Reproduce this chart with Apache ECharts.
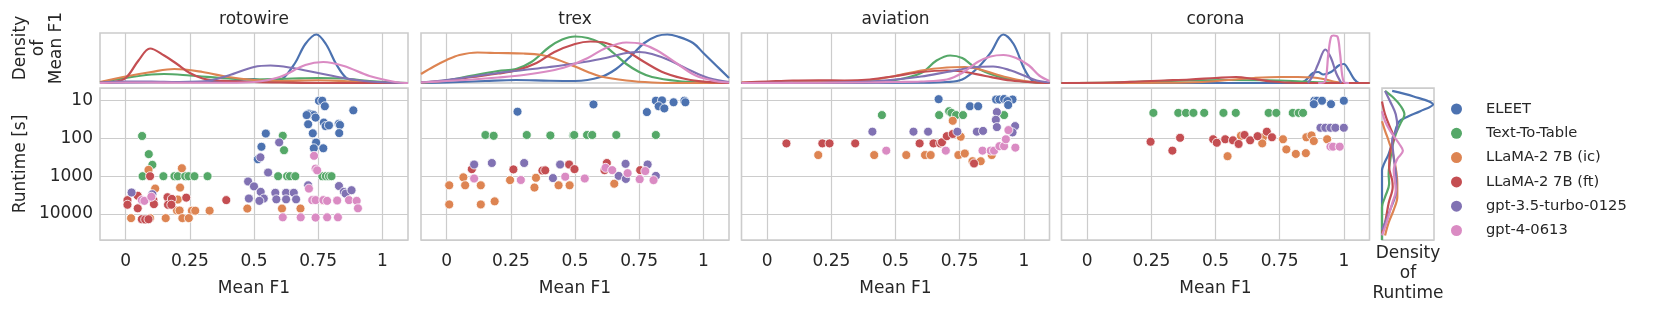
<!DOCTYPE html>
<html><head><meta charset="utf-8">
<script src="https://cdn.jsdelivr.net/npm/echarts@6/dist/echarts.min.js"></script>
<style>html,body{margin:0;padding:0;background:#fff}#c{width:1661px;height:315px}</style>
</head><body><div id="c"></div>
<script>
const methods = ['ELEET','Text-To-Table','LLaMA-2 7B (ic)','LLaMA-2 7B (ft)','gpt-3.5-turbo-0125','gpt-4-0613'];
const colors = ['#4C72B0','#55A868','#DD8452','#C44E52','#8172B3','#DA8BC3'];
const datasets = ['rotowire','trex','aviation','corona'];
const f1Ticks = [0, 0.25, 0.5, 0.75, 1];
const runtimeTicks = [10, 100, 1000, 10000];

// scatter points: [Mean F1, Runtime s], one array per method (order = methods)
const rotowirePoints = [
 [[0.753,10],[0.766,10],[0.776,14],[0.887,18],[0.714,22],[0.727,23],[0.733,24],[0.74,28],[0.705,24],[0.711,42],[0.772,38],[0.779,47],[0.792,45],[0.83,41],[0.835,44],[0.832,72],[0.729,73],[0.546,74],[0.742,128],[0.529,166],[0.733,182],[0.77,182],[0.515,355]],
 [[0.064,86],[0.09,260],[0.104,500],[0.612,85],[0.617,205],[0.066,1000],[0.147,1000],[0.19,1000],[0.203,1000],[0.232,1000],[0.245,1000],[0.268,1000],[0.319,1000],[0.594,1000],[0.629,1000],[0.64,1000],[0.661,1000],[0.766,1000],[0.78,1000],[0.792,1000],[0.802,1000]],
 [[0.219,615],[0.089,680],[0.115,2130],[0.212,2000],[0.203,4150],[0.2,8100],[0.21,8100],[0.258,8200],[0.271,8200],[0.327,8200],[0.021,12900],[0.095,12900],[0.156,12900],[0.221,12900],[0.246,12900],[0.474,7200],[0.609,7200],[0.681,7200],[0.77,4400]],
 [[0.095,1000],[0.047,3300],[0.007,4300],[0.007,5700],[0.047,7100],[0.108,4300],[0.11,5500],[0.163,3600],[0.165,5700],[0.18,4000],[0.178,5700],[0.236,3700],[0.392,4300],[0.063,13800],[0.076,14000],[0.089,13800]],
 [[0.598,127],[0.525,316],[0.555,800],[0.477,1380],[0.5,1860],[0.526,2600],[0.538,3900],[0.521,4500],[0.48,3900],[0.583,2750],[0.625,2750],[0.655,2750],[0.587,4100],[0.625,4100],[0.664,4100],[0.831,1820],[0.85,2600],[0.857,2900],[0.88,2350],[0.023,2700],[0.104,3000],[0.711,1740]],
 [[0.734,288],[0.74,630],[0.746,700],[0.714,2130],[0.727,4300],[0.74,4300],[0.77,4300],[0.785,4500],[0.824,4400],[0.87,4300],[0.9,4500],[0.905,7100],[0.612,12300],[0.682,12300],[0.74,12500],[0.785,12300],[0.827,12300],[0.063,4300],[0.073,4500],[0.1,3500]]
];
const trexPoints = [
 [[0.276,19.5],[0.572,12.5],[0.78,20],[0.815,10],[0.839,9.8],[0.826,14],[0.848,16],[0.884,11],[0.926,10],[0.93,11]],
 [[0.151,81],[0.183,85],[0.312,81],[0.404,83],[0.493,83],[0.497,81],[0.547,81],[0.567,81],[0.661,81],[0.815,81]],
 [[0.01,1740],[0.065,1070],[0.072,1740],[0.133,1740],[0.01,5600],[0.133,5600],[0.187,4640],[0.247,1270],[0.342,2000],[0.348,1100],[0.436,1740],[0.479,1740],[0.653,1580]],
 [[0.098,650],[0.26,660],[0.373,710],[0.384,700],[0.477,490],[0.498,650],[0.624,447],[0.615,690],[0.754,690]],
 [[0.107,490],[0.176,447],[0.302,447],[0.442,490],[0.697,470],[0.783,490],[0.414,1120],[0.67,980],[0.698,1180],[0.815,980]],
 [[0.107,1150],[0.289,1260],[0.462,1030],[0.538,1150],[0.619,600],[0.645,690],[0.705,830],[0.752,1200],[0.774,730],[0.806,1270]]
];
const aviationPoints = [
 [[0.668,9.1],[0.79,14],[0.822,14],[0.892,9.3],[0.905,9.3],[0.923,9],[0.956,9.3],[0.936,10.2],[0.939,13]],
 [[0.447,24],[0.67,24],[0.709,19],[0.718,21],[0.736,24],[0.763,24],[0.923,24]],
 [[0.199,275],[0.417,275],[0.542,275],[0.615,275],[0.637,275],[0.723,34],[0.754,90],[0.745,275],[0.77,250],[0.8,400],[0.832,400],[0.875,275]],
 [[0.075,135],[0.215,135],[0.243,135],[0.343,135],[0.594,135],[0.648,135],[0.674,135],[0.681,126],[0.7,87],[0.723,76],[0.806,460]],
 [[0.41,66],[0.57,66],[0.627,66],[0.741,66],[0.817,66],[0.841,63],[0.895,20],[0.891,32],[0.895,50],[0.966,47],[0.956,69]],
 [[0.464,210],[0.696,210],[0.839,210],[0.871,210],[0.884,210],[0.905,160],[0.923,160],[0.93,105],[0.94,60],[0.967,175]]
];
const coronaPoints = [
 [[0.885,10],[0.895,10],[0.915,10],[0.95,12.3],[1.0,10],[0.883,12.3]],
 [[0.258,21],[0.355,21],[0.385,21],[0.414,21],[0.456,21],[0.531,21],[0.579,21],[0.707,21],[0.737,21],[0.801,21],[0.824,21],[0.841,21]],
 [[0.547,295],[0.599,85],[0.685,93],[0.682,135],[0.763,105],[0.776,195],[0.813,257],[0.852,245],[0.854,93],[0.874,83],[0.883,117],[0.935,105]],
 [[0.247,122],[0.332,210],[0.362,96],[0.491,105],[0.505,130],[0.538,105],[0.568,112],[0.59,140],[0.613,81],[0.635,112],[0.664,87],[0.7,66],[0.72,93]],
 [[0.909,52],[0.928,52],[0.948,52],[0.967,52],[1.0,52]],
 [[0.948,165],[0.958,165],[0.984,165]]
];

// marginal densities of Mean F1: [Mean F1, relative density]
const rotowireDensity = [
 [[-0.1,0],[0,0.01],[0.2,0.02],[0.4,0.04],[0.5,0.08],[0.56,0.02],[0.61,0.08],[0.66,0.4],[0.7,0.78],[0.743,0.97],[0.78,0.78],[0.82,0.38],[0.86,0.1],[0.9,0.04],[1.0,0.01],[1.1,0]],
 [[-0.1,0.01],[0,0.1],[0.1,0.17],[0.15,0.18],[0.25,0.15],[0.4,0.09],[0.5,0.07],[0.65,0.09],[0.75,0.1],[0.85,0.09],[0.95,0.04],[1.1,0]],
 [[-0.1,0.02],[0,0.13],[0.1,0.22],[0.19,0.28],[0.3,0.22],[0.4,0.12],[0.5,0.06],[0.6,0.04],[0.75,0.055],[0.85,0.04],[1.0,0.005],[1.1,0]],
 [[-0.1,0],[-0.05,0.02],[0,0.1],[0.05,0.45],[0.095,0.69],[0.15,0.55],[0.2,0.38],[0.25,0.2],[0.3,0.09],[0.35,0.05],[0.4,0.04],[0.5,0.02],[0.6,0.01],[0.8,0],[1.1,0]],
 [[-0.1,0.01],[0,0.03],[0.1,0.03],[0.2,0.02],[0.3,0.03],[0.4,0.15],[0.5,0.32],[0.564,0.35],[0.65,0.3],[0.75,0.2],[0.85,0.1],[0.95,0.03],[1.05,0.005],[1.1,0]],
 [[-0.1,0],[0,0.01],[0.1,0.01],[0.2,0.005],[0.4,0.005],[0.5,0.02],[0.6,0.12],[0.7,0.36],[0.77,0.42],[0.85,0.34],[0.95,0.14],[1.05,0.02],[1.1,0]]
];
const trexDensity = [
 [[-0.1,0],[0,0.01],[0.15,0.04],[0.27,0.06],[0.4,0.045],[0.5,0.04],[0.6,0.12],[0.66,0.28],[0.72,0.55],[0.77,0.8],[0.82,0.94],[0.86,0.97],[0.9,0.93],[0.96,0.8],[1.0,0.6],[1.05,0.35],[1.1,0.1]],
 [[-0.1,0],[0,0.05],[0.1,0.15],[0.2,0.24],[0.27,0.28],[0.33,0.42],[0.4,0.72],[0.45,0.87],[0.5,0.93],[0.55,0.9],[0.6,0.8],[0.65,0.6],[0.7,0.38],[0.75,0.22],[0.8,0.12],[0.9,0.04],[1.0,0.01],[1.1,0]],
 [[-0.1,0.18],[-0.05,0.33],[0,0.46],[0.05,0.56],[0.12,0.61],[0.2,0.6],[0.3,0.59],[0.37,0.56],[0.42,0.49],[0.5,0.33],[0.55,0.22],[0.6,0.13],[0.7,0.05],[0.8,0.01],[0.9,0],[1.1,0]],
 [[-0.1,0.01],[0,0.05],[0.1,0.12],[0.2,0.19],[0.27,0.25],[0.35,0.4],[0.42,0.62],[0.5,0.78],[0.56,0.83],[0.62,0.8],[0.7,0.64],[0.77,0.42],[0.85,0.2],[0.95,0.06],[1.05,0.01],[1.1,0]],
 [[-0.1,0.01],[0,0.06],[0.1,0.13],[0.2,0.2],[0.3,0.26],[0.4,0.32],[0.5,0.39],[0.6,0.48],[0.7,0.6],[0.75,0.62],[0.8,0.58],[0.87,0.45],[0.95,0.25],[1.02,0.1],[1.1,0.02]],
 [[-0.1,0.01],[0,0.04],[0.1,0.07],[0.2,0.11],[0.3,0.16],[0.4,0.24],[0.47,0.33],[0.55,0.5],[0.62,0.7],[0.7,0.81],[0.76,0.78],[0.82,0.65],[0.9,0.38],[0.97,0.15],[1.05,0.035],[1.1,0.01]]
];
const aviationDensity = [
 [[-0.1,0],[0.6,0.005],[0.7,0.02],[0.76,0.07],[0.82,0.3],[0.87,0.6],[0.92,0.97],[0.96,0.78],[1.0,0.3],[1.03,0.06],[1.06,0],[1.1,0]],
 [[-0.1,0],[0.2,0.01],[0.4,0.03],[0.5,0.06],[0.6,0.2],[0.66,0.45],[0.713,0.55],[0.76,0.5],[0.8,0.35],[0.85,0.22],[0.9,0.13],[0.95,0.07],[1.0,0.03],[1.05,0.01],[1.1,0]],
 [[-0.1,0.005],[0.1,0.02],[0.2,0.04],[0.3,0.04],[0.4,0.06],[0.5,0.14],[0.6,0.25],[0.7,0.31],[0.77,0.32],[0.83,0.27],[0.9,0.16],[0.97,0.07],[1.05,0.01],[1.1,0]],
 [[-0.1,0.01],[0,0.03],[0.1,0.05],[0.2,0.055],[0.3,0.05],[0.4,0.07],[0.5,0.14],[0.6,0.22],[0.7,0.25],[0.76,0.23],[0.85,0.14],[0.95,0.05],[1.05,0.01],[1.1,0]],
 [[-0.1,0],[0.2,0.005],[0.4,0.03],[0.5,0.07],[0.6,0.13],[0.7,0.22],[0.8,0.31],[0.88,0.33],[0.95,0.25],[1.0,0.15],[1.05,0.05],[1.1,0.01]],
 [[-0.1,0],[0.4,0.01],[0.5,0.02],[0.6,0.03],[0.7,0.07],[0.76,0.2],[0.82,0.42],[0.87,0.53],[0.92,0.56],[0.97,0.5],[1.02,0.35],[1.06,0.15],[1.1,0.04]]
];
const coronaDensity = [
 [[-0.1,0],[0.83,0],[0.85,0.05],[0.88,0.2],[0.9,0.22],[0.92,0.17],[0.95,0.22],[0.98,0.35],[1.0,0.38],[1.02,0.25],[1.04,0.08],[1.06,0],[1.1,0]],
 [[-0.1,0],[0.1,0.01],[0.25,0.035],[0.4,0.05],[0.55,0.06],[0.7,0.055],[0.8,0.04],[0.9,0.015],[1.0,0],[1.1,0]],
 [[-0.1,0],[0.3,0.005],[0.45,0.02],[0.55,0.06],[0.65,0.1],[0.75,0.12],[0.82,0.12],[0.88,0.11],[0.92,0.08],[0.97,0.02],[1.0,0],[1.1,0]],
 [[-0.1,0],[0.1,0.01],[0.2,0.03],[0.3,0.05],[0.4,0.07],[0.5,0.1],[0.58,0.12],[0.65,0.08],[0.72,0.03],[0.8,0.005],[0.85,0],[1.1,0]],
 [[0.86,0],[0.88,0.15],[0.9,0.38],[0.928,0.67],[0.95,0.5],[0.97,0.2],[0.99,0]],
 [[0.9,0],[0.925,0.02],[0.94,0.6],[0.95,0.92],[0.96,0.95],[0.975,0.93],[0.985,0.6],[1.0,0.02],[1.02,0]]
];
// marginal density of Runtime (all datasets): [relative density, Runtime s]
const runtimeDensity = [
 [[0.2,5.5],[0.62,7.7],[1.0,12.6],[0.75,19],[0.51,26],[0.34,35],[0.27,57],[0.23,95],[0.13,260],[0.04,470],[0,700],[0,49000]],
 [[0.06,5.5],[0.23,8.5],[0.37,14],[0.44,23],[0.37,38],[0.27,77],[0.2,174],[0.16,390],[0.13,870],[0.14,1580],[0.06,3550],[0,6500],[0,49000]],
 [[0,35],[0.06,63],[0.13,115],[0.23,316],[0.3,1580],[0.3,3550],[0.23,7800],[0.13,17000],[0.06,37000]],
 [[0,10.5],[0.06,23],[0.16,52],[0.23,95],[0.16,213],[0.14,575],[0.2,1290],[0.21,1900],[0.13,5200],[0.06,17000],[0,32000]],
 [[0.06,5.5],[0.16,10.5],[0.27,23],[0.3,52],[0.2,105],[0.23,316],[0.28,1290],[0.28,2350],[0.16,7800],[0.06,17000],[0,26000]],
 [[0,19],[0.06,35],[0.16,63],[0.34,140],[0.41,213],[0.3,350],[0.23,700],[0.27,2350],[0.2,5200],[0.09,17000],[0,37000]]
];

const pointsByDataset = [rotowirePoints, trexPoints, aviationPoints, coronaPoints];
const densityByDataset = [rotowireDensity, trexDensity, aviationDensity, coronaDensity];

const FONT = 'DejaVu Sans';
const TXT = '#262626';
const GRIDC = '#cccccc';
const NONE = 'rgba(0,0,0,0)';
const panelLeft = [100, 421, 741.5, 1061.5];
const panelW = 308;
const topY = 33, topH = 50, scY = 88, scH = 152;
const rtMin = 4.6, rtMax = 49000;
const isF1Tick = v => f1Ticks.some(t => Math.abs(t - v) < 1e-6);

const grid = [], xAxis = [], yAxis = [], series = [];
const gridBase = {show:true, borderColor:GRIDC, borderWidth:1.6, backgroundColor:'#fff'};
for (let i = 0; i < 4; i++) {
  grid.push(Object.assign({left:panelLeft[i], top:topY, width:panelW, height:topH}, gridBase));
}
for (let i = 0; i < 4; i++) {
  grid.push(Object.assign({left:panelLeft[i], top:scY, width:panelW, height:scH}, gridBase));
}
grid.push(Object.assign({left:1382, top:scY, width:52, height:scH}, gridBase));

// ticks every 0.05 from -0.1; only 0, 0.25, ..., 1 get a visible grid line and a label
const f1Axis = (gi, labels) => ({
  type:'value', gridIndex:gi, min:-0.1, max:1.1, interval:0.05,
  axisLine:{show:false}, axisTick:{show:false},
  splitLine:{show:true, lineStyle:{color:[NONE, NONE, GRIDC, NONE, NONE], width:1.2}},
  axisLabel:{show:labels, margin:13, fontSize:17, fontFamily:FONT, color:TXT,
    formatter: v => isF1Tick(v) ? String(+(+v).toFixed(2)) : ''},
  name: labels ? 'Mean F1' : '', nameLocation:'middle', nameGap:40,
  nameTextStyle:{fontSize:17, fontFamily:FONT, color:TXT}
});
const rtAxis = (gi, labels) => ({
  type:'log', logBase:10, gridIndex:gi, min:rtMin, max:rtMax, inverse:true,
  axisLine:{show:false}, axisTick:{show:false},
  splitLine:{show:true, lineStyle:{color:GRIDC, width:1.2}},
  axisLabel:{show:labels, margin:7, fontSize:17, fontFamily:FONT, color:TXT,
    showMinLabel:false, showMaxLabel:false,
    formatter: v => runtimeTicks.some(t => Math.abs(t - v) / t < 1e-6) ? String(Math.round(v)) : ''}
});

for (let i = 0; i < 4; i++) {
  xAxis.push(f1Axis(i, false));
  yAxis.push({type:'value', gridIndex:i, min:0, max:1, show:false, splitLine:{show:false}});
}
for (let i = 0; i < 4; i++) {
  xAxis.push(f1Axis(4 + i, true));
  yAxis.push(rtAxis(4 + i, i === 0));
}
xAxis.push({type:'value', gridIndex:8, min:0, max:1.02, axisLine:{show:false}, axisTick:{show:false}, axisLabel:{show:false}, splitLine:{show:false}});
yAxis.push(rtAxis(8, false));

for (let i = 0; i < 4; i++) {
  for (let m = 0; m < 6; m++) {
    series.push({
      type:'line', name:methods[m], xAxisIndex:i, yAxisIndex:i, data:densityByDataset[i][m],
      smooth:0.35, showSymbol:false, symbol:'none', lineStyle:{color:colors[m], width:2.2},
      itemStyle:{color:colors[m]}, z:3, silent:true
    });
  }
}
for (let i = 0; i < 4; i++) {
  for (let m = 0; m < 6; m++) {
    series.push({
      type:'scatter', name:methods[m], xAxisIndex:4+i, yAxisIndex:4+i, data:pointsByDataset[i][m],
      symbol:'circle', symbolSize:9,
      itemStyle:{color:colors[m], borderColor:'#ffffff', borderWidth:0.8, opacity:1}, z:4
    });
  }
}
for (let m = 0; m < 6; m++) {
  series.push({
    type:'line', name:methods[m], xAxisIndex:8, yAxisIndex:8, data:runtimeDensity[m],
    smooth:0.35, showSymbol:false, symbol:'none', lineStyle:{color:colors[m], width:2.2},
    itemStyle:{color:colors[m]}, z:3, silent:true
  });
}

const chart = echarts.init(document.getElementById('c'), null, {renderer:'canvas'});
chart.setOption({
  animation:false,
  backgroundColor:'#ffffff',
  textStyle:{fontFamily:FONT},
  grid, xAxis, yAxis, series,
  legend:{
    orient:'vertical', left:1451, top:101.5, padding:0, itemWidth:11, itemHeight:11, itemGap:9.3,
    icon:'circle', data:methods, selectedMode:false,
    textStyle:{fontSize:14.7, fontFamily:FONT, color:TXT, padding:[0,0,0,19]}
  },
  graphic:[
    ...datasets.map((d, i) => ({type:'text', x:panelLeft[i] + panelW/2, y:20,
      style:{text:d, font:'17px "DejaVu Sans"', fill:TXT, textAlign:'center', textVerticalAlign:'middle'}})),
    {type:'text', x:39, y:48, rotation:Math.PI/2,
      style:{text:'Density\nof\nMean F1', font:'17px "DejaVu Sans"', fill:TXT, textAlign:'center', textVerticalAlign:'middle', lineHeight:18}},
    {type:'text', x:21, y:164, rotation:Math.PI/2,
      style:{text:'Runtime [s]', font:'17px "DejaVu Sans"', fill:TXT, textAlign:'center', textVerticalAlign:'middle'}},
    {type:'text', x:1408, y:274,
      style:{text:'Density\nof\nRuntime', font:'17px "DejaVu Sans"', fill:TXT, textAlign:'center', textVerticalAlign:'middle', lineHeight:20}}
  ]
});
</script></body></html>
